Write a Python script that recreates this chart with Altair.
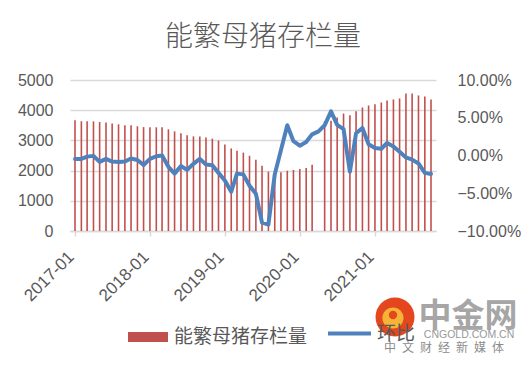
import altair as alt
import pandas as pd

# ---------------- data ----------------
months = [f"{y}-{m:02d}" for y in range(2017, 2022) for m in range(1, 13)][:58]

# 能繁母猪存栏量 (万头); 2020-04 has no bar in the reference
sow = [3667, 3633, 3633, 3630, 3610, 3595, 3560, 3533, 3505, 3500, 3467, 3440,   # 2017
       3433, 3433, 3433, 3367, 3300, 3233, 3167, 3133, 3133, 3095, 3060, 2995,   # 2018
       2867, 2733, 2660, 2595, 2490, 2360, 2160, 1965, 1920, 1945, 1995, 2020,   # 2019
       2055, 2090, 2190, None, 3640, 3650, 3756, 3889, 3833, 3967, 4089, 4156,   # 2020
       4200, 4256, 4322, 4356, 4389, 4556, 4556, 4489, 4456, 4356]               # 2021

# 环比 (%)
mom = [-0.45, -0.45, -0.15, -0.05, -0.85, -0.45, -0.8, -0.85, -0.8, -0.4, -0.6, -1.25,
       -0.45, -0.1, 0.0, -1.5, -2.4, -1.4, -1.9, -1.1, -0.45, -1.2, -1.3, -2.3,
       -3.3, -4.8, -2.4, -2.5, -4.0, -5.05, -8.9, -9.15, -2.5, 0.7, 4.0, 1.9,
       1.3, 1.8, 2.8, 3.2, 4.0, 5.85, 4.05, 3.5, -2.15, 2.95, 3.65, 1.5,
       1.0, 0.9, 1.65, 1.2, 0.5, -0.25, -0.55, -1.05, -2.3, -2.45]

left_ticks = [0, 1000, 2000, 3000, 4000, 5000]
right_ticks = [-10, -5, 0, 5, 10]
year_ticks = [2017, 2018, 2019, 2020, 2021]

title_text = "能繁母猪存栏量"
bar_name = "能繁母猪存栏量"
line_name = "环比"

df = pd.DataFrame({"date": [m + "-01T00:00:00" for m in months], "sow": sow, "mom": mom})
bars_df = df.dropna(subset=["sow"]).copy()
bars_df["series"] = bar_name
line_df = df.copy()
line_df["series2"] = line_name

GRAY_TXT = "#595959"
GRID = "#d9d9d9"
NUM_FONT = "Liberation Sans"
CJK_FONT = "Noto Sans CJK SC"

x_scale = alt.Scale(domain=[alt.DateTime(year=2017, month=1, date=1),
                            alt.DateTime(year=2021, month=10, date=1)], nice=False)


def x_axis():
    return alt.Axis(values=[alt.DateTime(year=y, month=1, date=1) for y in year_ticks],
                    format="%Y-%m", labelAngle=-45, labelAlign="right", labelBaseline="middle",
                    labelPadding=18, labelOffset=-4, tickSize=5, tickColor=GRID, tickWidth=1.5,
                    domainColor=GRID, domainWidth=1.5, grid=False, labelFontSize=17,
                    labelColor=GRAY_TXT, labelFont=NUM_FONT, title=None, labelOverlap=False)


bars = alt.Chart(bars_df).mark_bar(size=1.6, color="#C0504D").encode(
    x=alt.X("date:T", scale=x_scale, axis=x_axis()),
    y=alt.Y("sow:Q", scale=alt.Scale(domain=[0, 5000], nice=False),
            axis=alt.Axis(values=left_ticks, format="d", grid=True, gridColor=GRID, gridWidth=1.5,
                          domain=False, ticks=False, labelPadding=17, labelFontSize=16,
                          labelColor=GRAY_TXT, labelFont=NUM_FONT, title=None)),
    color=alt.Color("series:N", scale=alt.Scale(domain=[bar_name], range=["#C0504D"]),
                    legend=alt.Legend(orient="none", legendX=58, legendY=237, title=None,
                                      symbolType="M-1,-0.25H1V0.25H-1Z", symbolSize=1600,
                                      symbolFillColor="#C0504D", symbolStrokeWidth=0,
                                      labelFontSize=19, labelFont=CJK_FONT, labelColor=GRAY_TXT,
                                      labelOffset=6, zindex=0)),
)

line = alt.Chart(line_df).mark_line(strokeWidth=4, strokeJoin="round", strokeCap="round").encode(
    x=alt.X("date:T", scale=x_scale, axis=x_axis()),
    y=alt.Y("mom:Q", scale=alt.Scale(domain=[-10, 10], nice=False),
            axis=alt.Axis(orient="right", values=right_ticks,
                          labelExpr="format(datum.value, '.2f') + '%'", grid=False,
                          domain=False, ticks=False, labelPadding=21, labelFontSize=16,
                          labelColor=GRAY_TXT, labelFont=NUM_FONT, title=None)),
    stroke=alt.Stroke("series2:N", scale=alt.Scale(domain=[line_name], range=["#4F81BD"]),
                      legend=alt.Legend(orient="none", legendX=256, legendY=230, title=None,
                                        symbolType="stroke", symbolSize=1849, symbolStrokeWidth=4,
                                        labelFontSize=19, labelFont=CJK_FONT, labelColor=GRAY_TXT,
                                        labelOffset=4, zindex=0)),
)

# watermark (中金网)
wm = pd.DataFrame({"t": ["中金网"]})
logo_red = alt.Chart(wm).mark_circle(color="#E4461E", opacity=1, size=1520).encode(
    x=alt.value(325), y=alt.value(237))
logo_yel = alt.Chart(wm).mark_circle(color="#F6B436", opacity=1, size=450).encode(
    x=alt.value(323), y=alt.value(238))
logo_dot = alt.Chart(wm).mark_circle(color="#E4461E", opacity=1, size=70).encode(
    x=alt.value(323), y=alt.value(235))
wm_big = alt.Chart(wm).mark_text(font=CJK_FONT, fontSize=33, fontWeight="bold", color="#a6a6a6",
                                 align="center", baseline="middle").encode(
    x=alt.value(398), y=alt.value(237), text="t:N")
wm_en = alt.Chart(pd.DataFrame({"t": ["CNGOLD.COM.CN"]})).mark_text(
    font=NUM_FONT, fontSize=10.5, color="#999999", align="center", baseline="middle").encode(
    x=alt.value(399), y=alt.value(255), text="t:N")
wm_cn = alt.Chart(pd.DataFrame({"t": ["中\u2002文\u2002财\u2002经\u2002新\u2002媒\u2002体"]})).mark_text(
    font=CJK_FONT, fontSize=12, color="#8c8c8c", align="center", baseline="middle").encode(
    x=alt.value(374), y=alt.value(268), text="t:N")

chart = alt.layer(bars, line, logo_red, logo_yel, logo_dot, wm_big, wm_en, wm_cn
).resolve_scale(y="independent", color="independent").properties(
    width=366, height=151,
    autosize=alt.AutoSizeParams(type="none"),
    padding={"left": 62, "top": 72, "right": 86, "bottom": 127},
    title=alt.TitleParams(title_text, fontSize=28, font=CJK_FONT, fontWeight=300,
                          color=GRAY_TXT, anchor="middle", dx=10, offset=20),
    background="white",
).configure_view(stroke=None)

chart.save("out.html", embed_options={"renderer": "svg", "actions": False})
